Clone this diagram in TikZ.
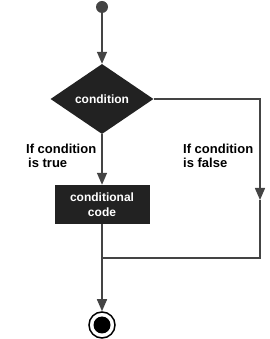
\documentclass[tikz,border=0pt]{standalone}
\usepackage{fontspec}
\setmainfont{Liberation Sans}
\usetikzlibrary{shapes.geometric,arrows.meta}
\definecolor{linea}{HTML}{444444}
\definecolor{relleno}{HTML}{222222}

\begin{document}
\begin{tikzpicture} %Diagrama if
  [
    x=1pt, y=1pt,
    % Estilos de nodos y flechas
    decision/.style={diamond, fill=relleno, minimum width=103pt, minimum height=70pt, aspect=1.47, inner sep=0pt, text=white, font=\bfseries\fontsize{12}{14}\selectfont},
    bloque/.style={rectangle, fill=relleno, minimum width=95pt, minimum height=39pt, inner sep=0pt, align=center, text=white, font=\bfseries\fontsize{12}{15}\selectfont},
    etiqueta/.style={inner sep=0pt, anchor=north west, align=left, font=\bfseries\fontsize{13}{14}\selectfont},
    flecha/.style={draw=linea, line width=1.5pt, -{Triangle[length=12pt, width=10pt]}, color=linea},
    conector/.style={draw=linea, line width=1.5pt}
  ]
  \useasboundingbox (0,0) rectangle (269,339);
  \node[circle, fill=linea, minimum size=12pt, inner sep=0pt] (inicio) at (102,332) {};
  \node[decision] (cond) at (102,240) {condition};
  \node[bloque] (codigo) at (102,134.5) {conditional\\code};
  \node[circle, draw=black, line width=1.5pt, fill=white, minimum size=26pt, inner sep=0pt] (fin) at (102,14) {};
  \node[circle, fill=black, minimum size=17pt, inner sep=0pt] (finint) at (fin) {};
  \coordinate (falso) at (260,139);
  \coordinate (union) at (102,81);
  \node[etiqueta] (verdad) at (26,195) {If condition\\\hspace{2pt}is true};
  \node[etiqueta] (mentira) at (183,195) {If condition\\is false};
  \draw[flecha] (inicio) -- (cond.north);
  \draw[flecha] (cond.south) -- (codigo.north);
  \draw[flecha] (cond.east) -| (falso);
  \draw[conector] (falso) |- (union);
  \draw[flecha] (codigo.south) -- (fin.north);

\end{tikzpicture}
\end{document}
